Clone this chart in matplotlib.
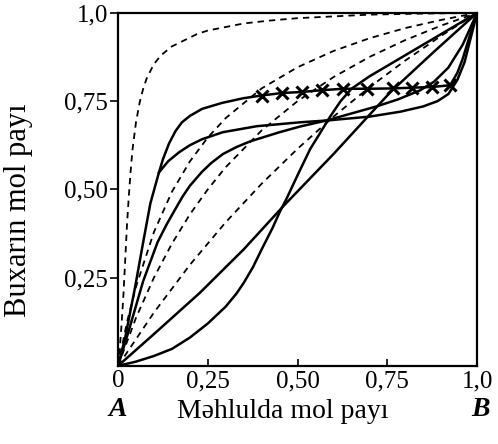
import matplotlib
matplotlib.use('Agg')
import matplotlib.pyplot as plt

plt.rcParams['font.family'] = ['Liberation Serif', 'DejaVu Serif']

# ideal-type curves (dashed)
d1_x = [0, 0.005, 0.01, 0.015, 0.02, 0.025, 0.03, 0.035, 0.04, 0.05, 0.06, 0.07, 0.08, 0.1,
        0.12, 0.15, 0.18, 0.22, 0.25, 0.3, 0.35, 0.42, 0.5, 0.6, 0.7, 0.85, 1.0]
d1_y = [0, 0.05, 0.12, 0.2, 0.3, 0.4, 0.48, 0.55, 0.61, 0.69, 0.745, 0.785, 0.815, 0.855,
        0.88, 0.905, 0.92, 0.94, 0.95, 0.96, 0.97, 0.978, 0.985, 0.99, 0.995, 0.998, 1.0]
d2_x = [0, 0.025, 0.05, 0.1, 0.15, 0.2, 0.25, 0.3, 0.4, 0.5, 0.6, 0.7, 0.8, 0.9, 1.0]
d2_y = [0, 0.124, 0.224, 0.379, 0.493, 0.579, 0.647, 0.702, 0.786, 0.846, 0.892, 0.928, 0.957,
        0.98, 1.0]
d3_x = [0, 0.05, 0.1, 0.15, 0.2, 0.25, 0.3, 0.4, 0.5, 0.6, 0.7, 0.8, 0.9, 1.0]
d3_y = [0, 0.136, 0.25, 0.346, 0.429, 0.5, 0.563, 0.667, 0.75, 0.818, 0.875, 0.923, 0.964, 1.0]
d4_x = [0, 0.1, 0.2, 0.3, 0.4, 0.5, 0.6, 0.7, 0.8, 0.9, 1.0]
d4_y = [0, 0.151, 0.286, 0.407, 0.516, 0.615, 0.706, 0.789, 0.865, 0.935, 1.0]

# real systems (solid)
s1_x = [0, 0.02, 0.047, 0.07, 0.09, 0.114, 0.125, 0.142, 0.16, 0.178, 0.2, 0.234, 0.29, 0.348,
        0.4, 0.457, 0.513, 0.568, 0.627, 0.694, 0.766, 0.819, 0.875, 0.925, 0.945, 0.96, 0.975,
        0.99, 1.0]
s1_y = [0, 0.08, 0.22, 0.35, 0.46, 0.548, 0.585, 0.63, 0.665, 0.69, 0.708, 0.728, 0.745, 0.758,
        0.766, 0.773, 0.776, 0.781, 0.785, 0.785, 0.786, 0.788, 0.79, 0.795, 0.83, 0.87, 0.92,
        0.97, 1.0]
s2_x = [0.114, 0.14, 0.17, 0.2, 0.234, 0.292, 0.387, 0.507, 0.58, 0.7, 0.786, 0.85, 0.89, 0.92,
        0.945, 0.965, 0.98, 1.0]
s2_y = [0.548, 0.58, 0.605, 0.625, 0.642, 0.662, 0.679, 0.69, 0.695, 0.706, 0.72, 0.735, 0.75,
        0.77, 0.81, 0.86, 0.92, 1.0]
s3_x = [0, 0.03, 0.07, 0.11, 0.135, 0.159, 0.18, 0.2, 0.234, 0.26, 0.292, 0.33, 0.368, 0.45,
        0.507, 0.58, 0.65, 0.72, 0.78, 0.84, 0.88, 0.92, 0.96, 1.0]
s3_y = [0, 0.1, 0.24, 0.35, 0.4, 0.443, 0.48, 0.51, 0.55, 0.575, 0.6, 0.62, 0.636, 0.662,
        0.678, 0.695, 0.715, 0.735, 0.755, 0.78, 0.805, 0.845, 0.91, 1.0]
s5_x = [0, 0.1, 0.228, 0.35, 0.46, 0.6, 0.758, 0.88, 1.0]
s5_y = [0, 0.09, 0.207, 0.33, 0.452, 0.6, 0.775, 0.89, 1.0]
s6_x = [0, 0.05, 0.1, 0.15, 0.2, 0.25, 0.3, 0.33, 0.35, 0.376, 0.4, 0.43, 0.45, 0.47, 0.5,
        0.535, 0.56, 0.59, 0.62, 0.65, 0.7, 0.8, 0.9, 1.0]
s6_y = [0, 0.012, 0.028, 0.048, 0.08, 0.12, 0.168, 0.205, 0.235, 0.28, 0.33, 0.39, 0.435,
        0.475, 0.54, 0.614, 0.655, 0.705, 0.75, 0.785, 0.82, 0.88, 0.94, 1.0]

# crosses on the constant-vapour segment
cross_x = [0.401, 0.457, 0.513, 0.568, 0.627, 0.694, 0.766, 0.819, 0.875, 0.925]
cross_y = [0.764, 0.773, 0.776, 0.781, 0.785, 0.785, 0.786, 0.788, 0.79, 0.795]

x_ticks = [0, 0.25, 0.5, 0.75, 1.0]
x_labels = ['0', '0,25', '0,50', '0,75', '1,0']
y_ticks = [0.25, 0.5, 0.75, 1.0]
y_labels = ['0,25', '0,50', '0,75', '1,0']

fig = plt.figure(figsize=(4.98, 4.44), dpi=100)
ax = fig.add_axes([0.237, 0.176, 0.721, 0.795])

dash = dict(color='black', lw=1.3, linestyle=(0, (3.5, 2.8)))
for xs, ys in [(d1_x, d1_y), (d2_x, d2_y), (d3_x, d3_y), (d4_x, d4_y)]:
    ax.plot(xs, ys, **dash)

solid = dict(color='black', lw=1.8, solid_joinstyle='round')
for xs, ys in [(s1_x, s1_y), (s2_x, s2_y), (s3_x, s3_y), (s5_x, s5_y), (s6_x, s6_y)]:
    ax.plot(xs, ys, **solid)

ax.plot(cross_x, cross_y, linestyle='none', marker='x', ms=9, mew=2.2, color='black')

ax.set_xlim(0, 1.0)
ax.set_ylim(0, 1.0)
ax.set_xticks(x_ticks)
ax.set_xticklabels(x_labels)
ax.set_yticks(y_ticks)
ax.set_yticklabels(y_labels)
ax.tick_params(axis='x', direction='in', length=5, width=1.2, labelsize=18, pad=3)
ax.tick_params(axis='y', direction='out', length=6, width=1.2, labelsize=18, pad=1)
for sp in ax.spines.values():
    sp.set_linewidth(1.6)

ax.set_xlabel('Məhlulda mol payı', fontsize=20)
ax.xaxis.set_label_coords(0.46, -0.095)
ax.set_ylabel('Buxarın mol payı', fontsize=22)
ax.yaxis.set_label_coords(-0.238, 0.44)

ax.text(0, -0.125, 'A', transform=ax.transAxes, ha='center', va='center',
        fontsize=20, style='italic', fontweight='bold')
ax.text(1.01, -0.125, 'B', transform=ax.transAxes, ha='center', va='center',
        fontsize=20, style='italic', fontweight='bold')

fig.savefig('out.png', dpi=100)
